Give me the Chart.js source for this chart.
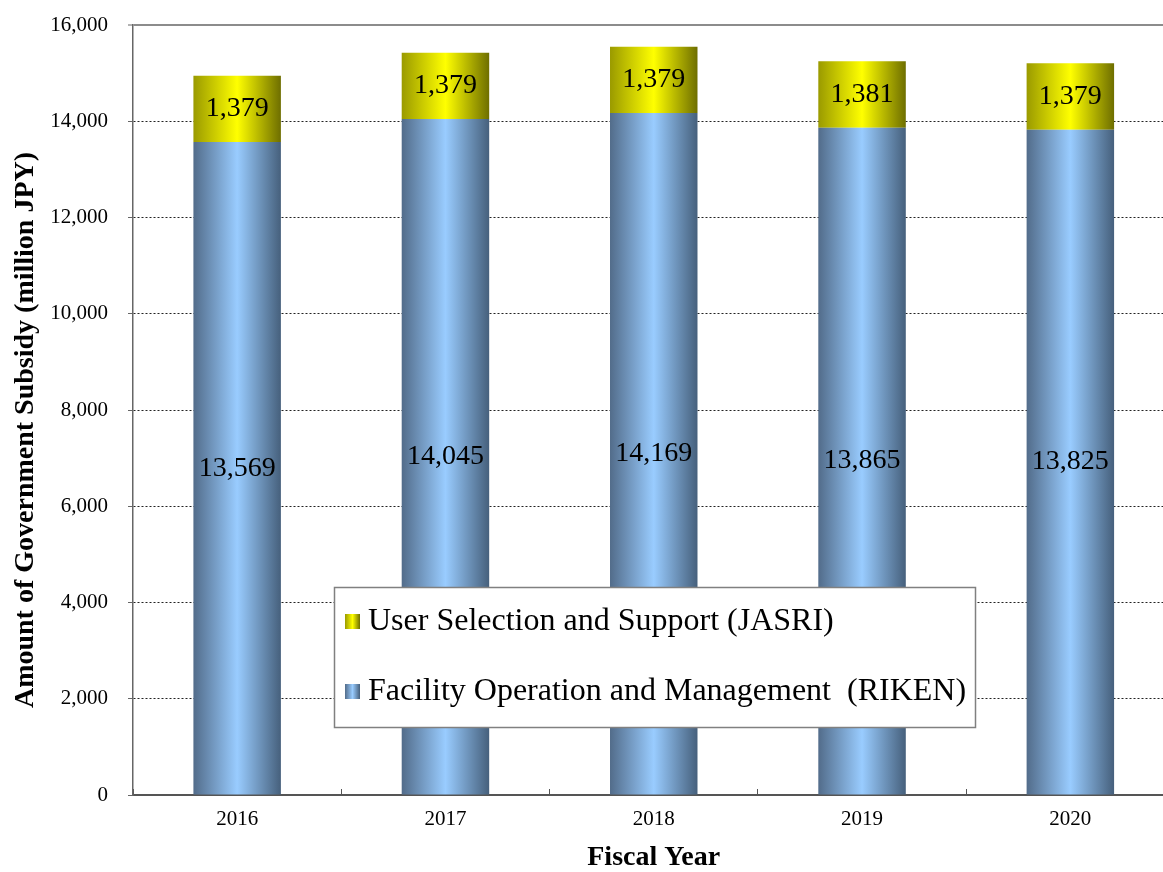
<!DOCTYPE html>
<html>
<head>
<meta charset="utf-8">
<script src="https://cdn.jsdelivr.net/npm/chart.js@4"></script>
<style>
  html, body { margin: 0; padding: 0; background: #fff; overflow: hidden; }
  canvas { display: block; }
</style>
</head>
<body>
<canvas id="chart" width="1176" height="872"></canvas>
<script>
const years = ['2016', '2017', '2018', '2019', '2020'];
const rikenValues = [13569, 14045, 14169, 13865, 13825];
const jasriValues = [1379, 1379, 1379, 1381, 1379];
const yTicks = [0, 2000, 4000, 6000, 8000, 10000, 12000, 14000, 16000];
const rikenLabel = 'Facility Operation and Management  (RIKEN)';
const jasriLabel = 'User Selection and Support (JASRI)';
const yTitle = 'Amount of Government Subsidy (million JPY)';

const serif = "'Liberation Serif', 'Times New Roman', serif";
const BAR_PCT = 0.42;

const blueStops = ['#526c8a', '#99ccff', '#46607c'];
const yellowStops = ['#9a9a00', '#ffff00', '#6e6e00'];

function makeGradient(ctx, x0, x1, stops) {
  const g = ctx.createLinearGradient(x0, 0, x1, 0);
  g.addColorStop(0, stops[0]);
  g.addColorStop(0.5, stops[1]);
  g.addColorStop(1, stops[2]);
  return g;
}

// horizontal gradient per bar, positioned from the x scale
function barFill(stops) {
  return (context) => {
    const chart = context.chart;
    const xScale = chart.scales.x;
    if (!xScale || context.dataIndex === undefined) return stops[1];
    const center = xScale.getPixelForValue(context.dataIndex);
    const half = (xScale.width / years.length) * BAR_PCT / 2;
    if (!isFinite(center) || !isFinite(half) || half <= 0) return stops[1];
    return makeGradient(chart.ctx, center - half, center + half, stops);
  };
}

const valueLabels = {
  id: 'valueLabels',
  afterDatasetsDraw(chart) {
    const ctx = chart.ctx;
    ctx.save();
    ctx.font = '28px ' + serif;
    ctx.fillStyle = '#000';
    ctx.textAlign = 'center';
    ctx.textBaseline = 'middle';
    chart.data.datasets.forEach((ds, di) => {
      chart.getDatasetMeta(di).data.forEach((bar, i) => {
        const p = bar.getCenterPoint();
        ctx.fillText(ds.data[i].toLocaleString('en-US'), p.x, p.y);
      });
    });
    ctx.restore();
  }
};

// y title sits a little below the axis centre in the original
const sideTitle = {
  id: 'sideTitle',
  afterDraw(chart) {
    const ctx = chart.ctx;
    ctx.save();
    ctx.translate(26, 430);
    ctx.rotate(-Math.PI / 2);
    ctx.font = 'bold 28px ' + serif;
    ctx.fillStyle = '#000';
    ctx.textAlign = 'center';
    ctx.textBaseline = 'middle';
    ctx.fillText(yTitle, 0, 0);
    ctx.restore();
  }
};

// boxed legend sitting inside the plot
const boxLegend = {
  id: 'boxLegend',
  afterDraw(chart) {
    const ctx = chart.ctx;
    const bx = 334, by = 587, bw = 641, bh = 140;
    ctx.save();
    ctx.fillStyle = '#fff';
    ctx.fillRect(bx, by, bw, bh);
    ctx.strokeStyle = '#808080';
    ctx.lineWidth = 1.5;
    ctx.strokeRect(bx + 0.5, by + 0.5, bw, bh);

    const items = [
      { text: chart.data.datasets[1].label, stops: yellowStops, y: 622 },
      { text: chart.data.datasets[0].label, stops: blueStops, y: 692 }
    ];
    ctx.font = '32px ' + serif;
    ctx.textBaseline = 'middle';
    ctx.textAlign = 'left';
    items.forEach(item => {
      ctx.fillStyle = makeGradient(ctx, 345, 360, item.stops);
      ctx.fillRect(345, item.y - 8, 15, 15);
      ctx.fillStyle = '#000';
      ctx.fillText(item.text, 368, item.y);
    });
    ctx.restore();
  }
};

const isTop = c => c.tick && c.tick.value === 16000;
const isZero = c => c.tick && c.tick.value === 0;

const chart = new Chart(document.getElementById('chart'), {
  type: 'bar',
  data: {
    labels: years,
    datasets: [
      {
        label: rikenLabel,
        data: rikenValues,
        backgroundColor: barFill(blueStops),
        barPercentage: BAR_PCT,
        categoryPercentage: 1
      },
      {
        label: jasriLabel,
        data: jasriValues,
        backgroundColor: barFill(yellowStops),
        barPercentage: BAR_PCT,
        categoryPercentage: 1
      }
    ]
  },
  options: {
    responsive: false,
    animation: false,
    devicePixelRatio: 1,
    layout: { padding: { top: 25, right: 1.5, left: 0, bottom: 0 } },
    plugins: {
      legend: { display: false },
      tooltip: { enabled: false }
    },
    scales: {
      x: {
        stacked: true,
        grid: {
          display: true,
          drawOnChartArea: false,
          drawTicks: true,
          tickLength: -6,
          tickColor: '#555',
          offset: true
        },
        border: { color: '#555', width: 2 },
        ticks: { font: { family: serif, size: 21 }, color: '#000', padding: 18 },
        title: {
          display: true,
          text: 'Fiscal Year',
          font: { family: serif, size: 28, weight: 'bold' },
          color: '#000',
          padding: { top: 0, bottom: -3 }
        },
        afterFit: s => { s.height = 77; s.paddingLeft = 0; s.paddingRight = 0; }
      },
      y: {
        stacked: true,
        min: 0,
        max: 16000,
        afterBuildTicks: s => { s.ticks = yTicks.map(v => ({ value: v })); },
        grid: {
          color: c => isTop(c) ? '#8c8c8c' : (isZero(c) ? 'rgba(0,0,0,0)' : '#222'),
          lineWidth: c => isTop(c) ? 2 : 1,
          tickLength: 5,
          tickColor: '#666',
          tickWidth: 1
        },
        border: {
          color: '#666',
          width: 1.5,
          dash: c => isTop(c) ? [] : [2, 2]
        },
        ticks: {
          font: { family: serif, size: 21 },
          color: '#000',
          padding: 20,
          callback: v => v.toLocaleString('en-US')
        },
        title: { display: false },
        afterFit: s => { s.width = 133; s.paddingTop = 0; s.paddingBottom = 0; }
      }
    }
  },
  plugins: [valueLabels, boxLegend, sideTitle]
});
// redraw once layout exists so the bar gradients resolve against the scale
chart.update();
</script>
</body>
</html>
